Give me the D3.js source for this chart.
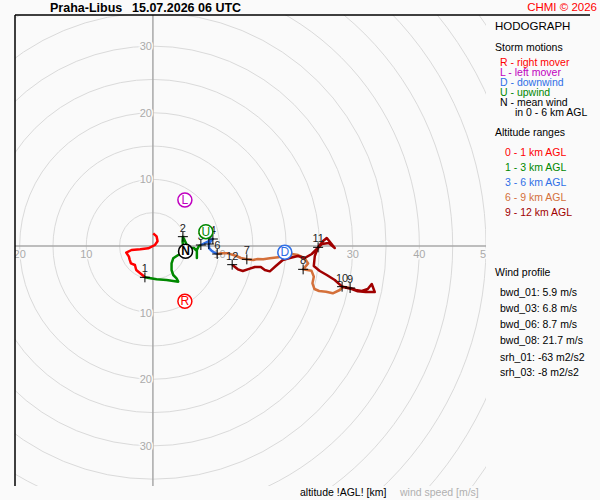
<!DOCTYPE html>
<html>
<head>
<meta charset="utf-8">
<script src="https://cdn.jsdelivr.net/npm/d3@7"></script>
<style>
  body { margin: 0; background: #fafafa; }
  svg { display: block; font-family: "Liberation Sans", Arial, sans-serif; }
</style>
</head>
<body>
<svg id="chart" width="600" height="500"></svg>
<script>
// hodograph trace, u/v wind components in m/s, split by altitude layer
var layer01 = [[0.05,1.9],[0.55,1.45],[0.7,0.7],[0.3,0.15],[-0.7,-0.35],[-1.9,-0.5],[-3.2,-0.6],[-4.0,-1.0],[-3.6,-1.6],[-3.5,-2.0],[-3.3,-2.6],[-2.7,-2.85],[-2.5,-3.6],[-2.0,-4.0],[-1.4,-4.5],[-1.2,-4.7]];
var layer13 = [[-1.2,-4.7],[0.55,-5.0],[2.05,-5.1],[3.8,-5.35],[3.55,-4.85],[3.05,-4.35],[2.8,-3.6],[2.8,-2.6],[3.05,-1.85],[3.8,-1.35],[4.3,-1.1],[4.55,-0.1],[4.45,0.65],[4.5,1.4],[5.1,0.15],[5.55,-0.3],[6.15,-0.3],[6.6,-0.75],[6.6,-1.8],[6.6,-0.6],[6.9,0],[7.2,0.15]];
var layer36 = [[7.2,0.15],[7.8,0.45],[8.4,0.75],[9.0,1.05],[8.8,0.9],[8.4,0.3],[8.45,-0.35],[8.8,-0.7],[9.15,-0.95],[9.65,-1.2]];
var layer69 = [[9.65,-1.2],[10.3,-1.1],[11.25,-1.1],[12.55,-1.5],[13.2,-1.8],[14.1,-2.0],[15.05,-2.1],[15.75,-1.95],[16.55,-2.0],[17.55,-1.85],[18.8,-1.7],[20.05,-1.35],[20.85,-1.2],[21.8,-1.35],[22.8,-1.85],[23.3,-2.6],[22.55,-3.5],[23.8,-3.7],[24.15,-4.6],[23.95,-5.6],[24.25,-6.45],[24.95,-6.75],[26.0,-6.85],[27.0,-7.1],[28.05,-6.6],[28.55,-6.1],[29.6,-6.3]];
var layer912 = [[29.6,-6.3],[30.45,-6.6],[31.35,-6.75],[32.25,-6.45],[32.85,-5.7],[33.3,-6.9],[31.95,-6.9],[30.75,-6.8],[29.85,-6.45],[28.4,-6.1],[27.3,-5.1],[26.1,-4.35],[25.05,-3.75],[24.15,-3.0],[24.3,-1.5],[24.8,-0.2],[25.5,0.7],[26.1,1.2],[27.3,-0.3],[26.4,0.45],[25.35,0.3],[24.75,-0.3],[23.85,-1.2],[22.8,-1.8],[21.75,-1.5],[20.55,-1.8],[19.5,-2.1],[18.45,-3.0],[17.55,-3.8],[16.8,-3.6],[16.2,-3.15],[15.3,-3.15],[14.55,-3.4],[13.5,-3.75],[12.75,-3.5],[11.9,-2.8]];

// km markers along the trace
var markerKm = [1,2,3,4,5,6,7,8,9,10,11,12];
var markerU = [-1.2,4.5,7.2,9.0,8.4,9.65,14.1,22.55,29.6,28.4,24.8,11.9];
var markerV = [-4.7,1.4,0.15,1.05,0.3,-1.2,-2.0,-3.5,-6.3,-6.1,-0.2,-2.8];

// storm motions
var stormLetters = ["R","L","D","U","N"];
var stormU = [4.8,4.8,19.8,7.95,4.9];
var stormV = [-8.3,6.9,-0.95,2.15,-0.8];

// rings and axis tick labels
var ringSpeeds = d3.range(5, 80, 5);
var xTickLabels = [-20,-10,10,20,30,40,50];
var yTickLabels = [30,20,10,-10,-20,-30];

var legendStorm = ["R - right mover","L - left mover","D - downwind","U - upwind","N - mean wind"];
var legendLayers = ["0 - 1 km AGL","1 - 3 km AGL","3 - 6 km AGL","6 - 9 km AGL","9 - 12 km AGL"];
var windProfile = ["bwd_01: 5.9 m/s","bwd_03: 6.8 m/s","bwd_06: 8.7 m/s","bwd_08: 21.7 m/s"];
var helicity = ["srh_01: -63 m2/s2","srh_03: -8 m2/s2"];

var layerColors = ["#ff0000","#008800","#2f6fe6","#d4703a","#a00000"];
var stormColors = ["#ff0000","#c000c0","#2f6fe6","#008800","#000000"];

var svg = d3.select("#chart");
var pLeft = 15, pTop = 15, pRight = 486, pBottom = 486;

var x = d3.scaleLinear().domain([-20.7, 50]).range([pLeft, pRight]);
var y = d3.scaleLinear().domain([34.65, -36]).range([pTop, pBottom]);
var r = function(s) { return x(s) - x(0); };

svg.append("rect").attr("width", 600).attr("height", 500).attr("fill", "#fafafa");

svg.append("clipPath").attr("id", "plotclip")
  .append("rect").attr("x", pLeft).attr("y", pTop).attr("width", pRight - pLeft).attr("height", pBottom - pTop);

var plot = svg.append("g").attr("clip-path", "url(#plotclip)");

plot.selectAll("circle.ring").data(ringSpeeds).enter().append("circle")
  .attr("class", "ring")
  .attr("cx", x(0)).attr("cy", y(0))
  .attr("r", function(d) { return r(d); })
  .attr("fill", "none").attr("stroke", "#dadada").attr("stroke-width", 1);

plot.append("line").attr("x1", pLeft).attr("x2", pRight).attr("y1", y(0)).attr("y2", y(0))
  .attr("stroke", "#a8a8a8").attr("stroke-width", 1.5);
plot.append("line").attr("x1", x(0)).attr("x2", x(0)).attr("y1", pTop).attr("y2", pBottom)
  .attr("stroke", "#a8a8a8").attr("stroke-width", 1.5);

// tick labels sit on the rings, with background halo
plot.selectAll("text.xt").data(xTickLabels).enter().append("text")
  .attr("x", function(d) { return x(d); }).attr("y", y(0) + 12)
  .attr("text-anchor", "middle").attr("font-size", 11).attr("fill", "#aaaaaa")
  .attr("stroke", "#fafafa").attr("stroke-width", 3).attr("paint-order", "stroke")
  .text(function(d) { return Math.abs(d); });
plot.selectAll("text.yt").data(yTickLabels).enter().append("text")
  .attr("x", x(0) - 1).attr("y", function(d) { return y(d) + 4; })
  .attr("text-anchor", "end").attr("font-size", 11).attr("fill", "#aaaaaa")
  .attr("stroke", "#fafafa").attr("stroke-width", 3).attr("paint-order", "stroke")
  .text(function(d) { return Math.abs(d); });

var line = d3.line().x(function(d) { return x(d[0]); }).y(function(d) { return y(d[1]); });
[layer01, layer13, layer36, layer69, layer912].forEach(function(seg, i) {
  plot.append("path").attr("d", line(seg))
    .attr("fill", "none").attr("stroke", layerColors[i])
    .attr("stroke-width", 2.5).attr("stroke-linejoin", "round");
});

// km crosses and labels
var mk = plot.selectAll("g.mk").data(markerKm).enter().append("g")
  .attr("transform", function(d, i) { return "translate(" + x(markerU[i]) + "," + y(markerV[i]) + ")"; });
mk.append("path").attr("d", "M-5,0H5M0,-5V5").attr("stroke", "#000").attr("stroke-width", 1);
mk.append("text").attr("y", -5).attr("text-anchor", "middle").attr("font-size", 11).attr("fill", "#222")
  .text(function(d) { return d; });

// storm motion circles
var st = plot.selectAll("g.st").data(stormLetters).enter().append("g")
  .attr("transform", function(d, i) { return "translate(" + x(stormU[i]) + "," + y(stormV[i]) + ")"; });
st.append("circle").attr("r", 7).attr("fill", "#fff")
  .attr("stroke", function(d, i) { return stormColors[i]; }).attr("stroke-width", 1.5);
st.append("text").attr("y", 4).attr("text-anchor", "middle").attr("font-size", 12)
  .attr("font-weight", function(d) { return d == "N" ? "bold" : "normal"; })
  .attr("fill", function(d, i) { return stormColors[i]; })
  .text(function(d) { return d; });

// frame
svg.append("line").attr("x1", pLeft).attr("x2", pLeft).attr("y1", pTop).attr("y2", pBottom).attr("stroke", "#000").attr("stroke-width", 1.5);
svg.append("line").attr("x1", pLeft).attr("x2", 590).attr("y1", pTop).attr("y2", pTop).attr("stroke", "#000").attr("stroke-width", 1.5);

// header
svg.append("text").attr("x", 50).attr("y", 11.5).attr("font-size", 12.5).attr("font-weight", "bold").text("Praha-Libus");
svg.append("text").attr("x", 132).attr("y", 11.5).attr("font-size", 12.5).attr("font-weight", "bold").text("15.07.2026 06 UTC");
svg.append("text").attr("x", 597).attr("y", 11).attr("text-anchor", "end").attr("font-size", 11.5).attr("fill", "#ff0000").text("CHMI \u00a9 2026");

// legend
var lg = svg.append("g").attr("font-size", 11);
lg.append("text").attr("x", 495).attr("y", 30).attr("font-size", 11.5).text("HODOGRAPH");
lg.append("text").attr("x", 495).attr("y", 51).attr("font-size", 10.5).text("Storm motions");
lg.selectAll("text.sm").data(legendStorm).enter().append("text")
  .attr("x", 500).attr("y", function(d, i) { return 65.5 + i * 10; })
  .attr("font-size", 10.5).attr("fill", function(d, i) { return stormColors[i]; }).text(function(d) { return d; });
lg.append("text").attr("x", 515).attr("y", 115.5).attr("font-size", 10.5).text("in 0 - 6 km AGL");
lg.append("text").attr("x", 495).attr("y", 135.5).attr("font-size", 10.5).text("Altitude ranges");
lg.selectAll("text.lr").data(legendLayers).enter().append("text")
  .attr("x", 505).attr("y", function(d, i) { return 155.5 + i * 15; })
  .attr("font-size", 10.5).attr("fill", function(d, i) { return layerColors[i]; }).text(function(d) { return d; });
lg.append("text").attr("x", 495).attr("y", 276).attr("font-size", 10.5).text("Wind profile");
lg.selectAll("text.wp").data(windProfile).enter().append("text")
  .attr("x", 500).attr("y", function(d, i) { return 296 + i * 16; })
  .attr("font-size", 10.5).text(function(d) { return d; });
lg.selectAll("text.hl").data(helicity).enter().append("text")
  .attr("x", 500).attr("y", function(d, i) { return 361 + i * 15; })
  .attr("font-size", 10.5).text(function(d) { return d; });

svg.append("text").attr("x", 300).attr("y", 496).attr("font-size", 10.5).text("altitude !AGL! [km]");
svg.append("text").attr("x", 400).attr("y", 496).attr("font-size", 10.5).attr("fill", "#b0b0b0").text("wind speed [m/s]");
</script>
</body>
</html>
